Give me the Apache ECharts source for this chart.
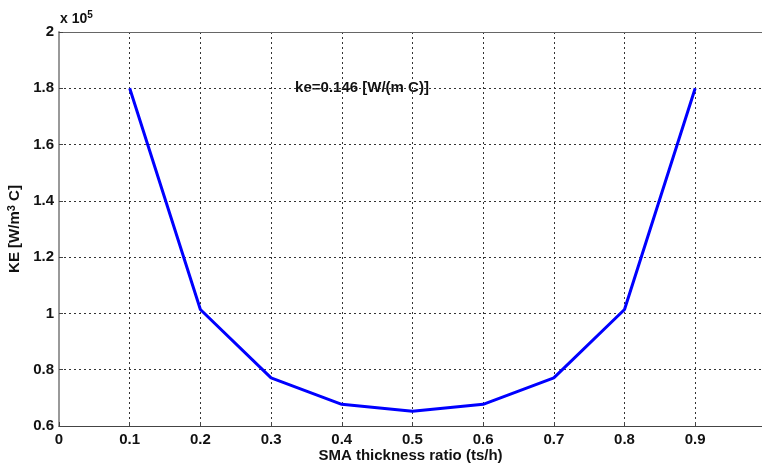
<!DOCTYPE html>
<html><head><meta charset="utf-8">
<script src="https://cdn.jsdelivr.net/npm/echarts@6/dist/echarts.min.js"></script>
<style>html,body{margin:0;padding:0;background:#fff}#c{width:762px;height:463px}</style>
</head><body><div id="c"></div>
<script>
var ratios = [0.1, 0.2, 0.3, 0.4, 0.5, 0.6, 0.7, 0.8, 0.9];
var keValues = [180000, 101400, 77100, 67700, 65200, 67700, 77100, 101400, 180000];
var xTitle = 'SMA thickness ratio (ts/h)';
var annotation = 'ke=0.146 [W/(m C)]';
var font = 'Liberation Sans, Arial, sans-serif';
var XMAX = 0.9945;
var chart = echarts.init(document.getElementById('c'));
var split = {show: true, lineStyle: {color: '#333', type: [2, 3], width: 1}};
chart.setOption({
  animation: false,
  backgroundColor: '#fff',
  grid: {left: 59, right: 0, top: 32, bottom: 37, show: false, containLabel: false, outerBoundsMode: 'none'},
  xAxis: [{
    type: 'value', min: 0, max: XMAX, interval: 0.1,
    name: xTitle, nameLocation: 'middle', nameGap: 22, nameMoveOverlap: false,
    nameTextStyle: {fontFamily: font, fontWeight: 'bold', fontSize: 15, color: '#111'},
    axisLine: {lineStyle: {color: '#444', width: 1}},
    axisTick: {inside: true, length: 4, lineStyle: {color: '#444'}},
    axisLabel: {fontFamily: font, fontWeight: 'bold', fontSize: 15, color: '#111', margin: 6, showMaxLabel: false,
      formatter: function(v){ return (Math.round(v*10)/10).toString(); }},
    splitLine: split
  }, {
    type: 'value', position: 'top', min: 0, max: XMAX, interval: 0.1,
    axisLine: {show: true, lineStyle: {color: '#666', width: 1}},
    axisTick: {show: false}, axisLabel: {show: false}, splitLine: {show: false}
  }],
  yAxis: {
    type: 'value', min: 60000, max: 200000, interval: 20000,
    name: '{n|KE [W/m}{s|3}{n| C]}', nameLocation: 'middle', nameGap: 35, nameMoveOverlap: false,
    nameTextStyle: {rich: {
      n: {fontFamily: font, fontWeight: 'bold', fontSize: 15, color: '#111'},
      s: {fontFamily: font, fontWeight: 'bold', fontSize: 11, color: '#111', verticalAlign: 'bottom', padding: [0,0,7,0]}
    }},
    axisLine: {lineStyle: {color: '#999', width: 2}},
    axisTick: {inside: true, length: 4, lineStyle: {color: '#444'}},
    axisLabel: {fontFamily: font, fontWeight: 'bold', fontSize: 15, color: '#111', margin: 5,
      formatter: function(v){ return (Math.round(v/1e4)/10).toString(); }},
    splitLine: split
  },
  series: [{
    type: 'line', data: ratios.map(function(x,i){return [x, keValues[i]];}),
    showSymbol: false, lineStyle: {color: '#0000ff', width: 3}, itemStyle: {color: '#0000ff'}
  }],
  graphic: [
    {type: 'text', left: 60, top: 10, style: {text: '{a|x 10}{b|5}', rich: {
      a: {fontFamily: font, fontWeight: 'bold', fontSize: 14, fill: '#111'},
      b: {fontFamily: font, fontWeight: 'bold', fontSize: 10, fill: '#111', verticalAlign: 'bottom', padding: [0,0,8,0]}
    }}},
    {type: 'text', x: 362, y: 88, style: {text: annotation, fontFamily: font, fontWeight: 'bold', fontSize: 15, fill: '#111', align: 'center', verticalAlign: 'middle'}}
  ]
});
</script></body></html>
